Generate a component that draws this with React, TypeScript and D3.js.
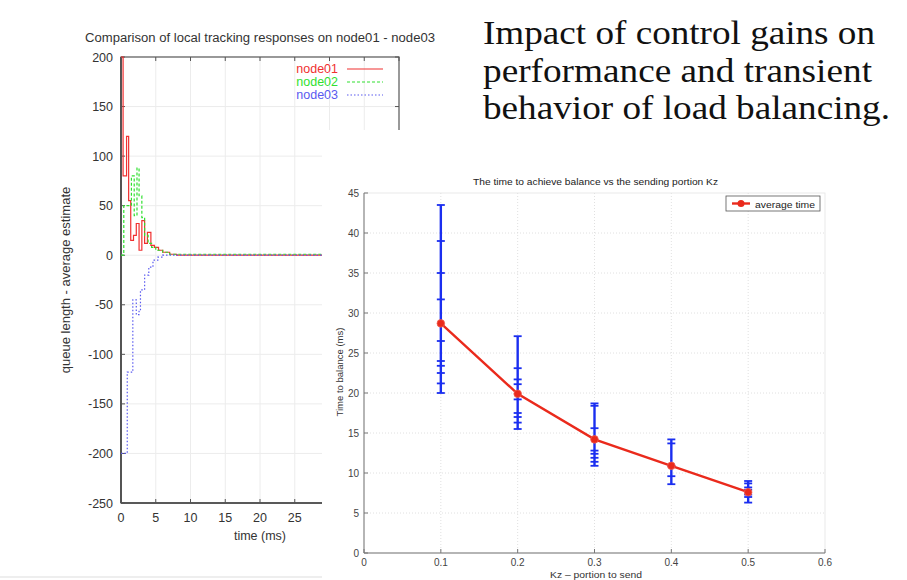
import React, { useEffect, useRef } from 'react'
import * as d3 from 'd3'

// left chart: step responses (time in ms, queue length - average estimate)
const node01Time = [0, 0.3, 0.8, 1.1, 1.4, 1.8, 2.2, 2.6, 3.0, 3.4, 3.8, 4.3, 4.8, 5.4, 6.0, 7.0, 8.0, 40]
const node01Value = [200, 80, 120, 55, 15, 20, 32, 5, 35, 12, 23, 10, 8, 5, 3, 1, 0, 0]
const node02Time = [0, 0.4, 1.5, 1.9, 2.3, 2.6, 3.0, 3.4, 3.9, 4.4, 5.0, 6.0, 7.0, 40]
const node02Value = [0, 50, 80, 40, 88, 60, 38, 20, 12, 8, 5, 3, 1, 0]
const node03Time = [0, 0.9, 1.7, 2.2, 2.6, 2.8, 3.4, 4.0, 4.6, 5.3, 6.0, 40]
const node03Value = [-200, -118, -45, -60, -55, -35, -20, -12, -5, -2, 0, 0]
const leftXTicks = [0, 5, 10, 15, 20, 25, 30, 35, 40]
const leftYTicks = [-250, -200, -150, -100, -50, 0, 50, 100, 150, 200]

// right chart: time to balance (ms) for each Kz
const kz = [0.1, 0.2, 0.3, 0.4, 0.5]
const runsKz01 = [43.5, 39, 35, 31.7, 26.5, 24, 23.4, 22.5, 21.2, 20]
const runsKz02 = [27.1, 23.1, 21.7, 21.1, 19.2, 17.5, 17, 16.3, 15.5]
const runsKz03 = [18.7, 18.4, 15.6, 12.8, 12.4, 11.9, 11.4, 10.9]
const runsKz04 = [14.2, 13.7, 10.9, 9.6, 8.6]
const runsKz05 = [9, 8.7, 8.2, 7.9, 7.3, 7.0, 6.3]
const averageTime = [28.7, 19.9, 14.2, 10.9, 7.6]
const rightXTicks = [0, 0.1, 0.2, 0.3, 0.4, 0.5, 0.6]
const rightYTicks = [0, 5, 10, 15, 20, 25, 30, 35, 40, 45]

const heading = ['Impact of control gains on', 'performance and transient', 'behavior of load balancing.']
const headingWidth = [392, 389, 407]

const SANS = 'Liberation Sans, Arial, Helvetica, sans-serif'

function App() {
  const ref = useRef(null)

  useEffect(() => {
    const svg = d3.select(ref.current)
    svg.selectAll('*').remove()

    // ---------- left chart ----------
    const xL = d3.scaleLinear().domain([0, 40]).range([121, 399])
    const yL = d3.scaleLinear().domain([-250, 200]).range([503, 57])
    const left = svg.append('g')

    left.append('text').text('Comparison of local tracking responses on node01 - node03')
      .attr('x', 85).attr('y', 42).attr('textLength', 350).attr('lengthAdjust', 'spacingAndGlyphs')
      .attr('font-family', SANS).attr('font-size', 12.5).attr('fill', '#333')

    // grid
    left.selectAll('line.gx').data(leftXTicks.slice(1, -1)).enter().append('line')
      .attr('x1', d => xL(d)).attr('x2', d => xL(d)).attr('y1', yL(200)).attr('y2', yL(-250))
      .attr('stroke', '#ececec').attr('stroke-width', 1)
    left.selectAll('line.gy').data(leftYTicks.slice(1, -1)).enter().append('line')
      .attr('x1', xL(0)).attr('x2', xL(40)).attr('y1', d => yL(d)).attr('y2', d => yL(d))
      .attr('stroke', '#ececec').attr('stroke-width', 1)

    // frame
    left.append('rect').attr('x', xL(0)).attr('y', yL(200))
      .attr('width', xL(40) - xL(0)).attr('height', yL(-250) - yL(200))
      .attr('fill', 'none').attr('stroke', '#555').attr('stroke-width', 1.2)
    left.append('line').attr('x1', xL(0)).attr('x2', xL(0)).attr('y1', yL(200)).attr('y2', yL(-250))
      .attr('stroke', '#444').attr('stroke-width', 1.6)
    left.append('line').attr('x1', xL(0)).attr('x2', xL(40)).attr('y1', yL(-250)).attr('y2', yL(-250))
      .attr('stroke', '#444').attr('stroke-width', 1.6)

    // ticks (inward, mirrored)
    leftXTicks.forEach(t => {
      left.append('line').attr('x1', xL(t)).attr('x2', xL(t)).attr('y1', yL(-250)).attr('y2', yL(-250) - 4)
        .attr('stroke', '#555')
      left.append('line').attr('x1', xL(t)).attr('x2', xL(t)).attr('y1', yL(200)).attr('y2', yL(200) + 4)
        .attr('stroke', '#555')
      left.append('text').text(t).attr('x', xL(t)).attr('y', yL(-250) + 19)
        .attr('text-anchor', 'middle').attr('font-family', SANS).attr('font-size', 12.5).attr('fill', '#333')
    })
    leftYTicks.forEach(t => {
      left.append('line').attr('x1', xL(0)).attr('x2', xL(0) + 4).attr('y1', yL(t)).attr('y2', yL(t))
        .attr('stroke', '#555')
      left.append('line').attr('x1', xL(40)).attr('x2', xL(40) - 4).attr('y1', yL(t)).attr('y2', yL(t))
        .attr('stroke', '#555')
      left.append('text').text(t).attr('x', xL(0) - 8).attr('y', yL(t) + 4.5)
        .attr('text-anchor', 'end').attr('font-family', SANS).attr('font-size', 12.5).attr('fill', '#333')
    })

    left.append('text').text('time (ms)').attr('x', 260).attr('y', 540)
      .attr('text-anchor', 'middle').attr('font-family', SANS).attr('font-size', 12.5).attr('fill', '#333')
    left.append('text').text('queue length - average estimate')
      .attr('transform', 'translate(70,280) rotate(-90)')
      .attr('text-anchor', 'middle').attr('font-family', SANS).attr('font-size', 13).attr('fill', '#333')

    const series = [
      { name: 'node01', t: node01Time, v: node01Value, color: '#f03030', dash: null },
      { name: 'node02', t: node02Time, v: node02Value, color: '#30e030', dash: '3,2' },
      { name: 'node03', t: node03Time, v: node03Value, color: '#5a5af0', dash: '1.5,2' },
    ]
    series.forEach((s, k) => {
      const line = d3.line<number>()
        .x((d, i) => xL(s.t[i]))
        .y(d => yL(d))
        .curve(d3.curveStepAfter)
      left.append('path').datum(s.v).attr('d', line)
        .attr('fill', 'none').attr('stroke', s.color).attr('stroke-width', 1.2)
        .attr('stroke-dasharray', s.dash)
      // legend
      const ly = 69 + k * 13
      left.append('text').text(s.name).attr('x', 338).attr('y', ly + 4)
        .attr('text-anchor', 'end').attr('font-family', SANS).attr('font-size', 12.5).attr('fill', s.color)
      left.append('line').attr('x1', 347).attr('x2', 383).attr('y1', ly).attr('y2', ly)
        .attr('stroke', s.color).attr('stroke-width', 1.2).attr('stroke-dasharray', s.dash)
    })

    // bottom border of the left picture
    svg.append('line').attr('x1', 0).attr('x2', 322).attr('y1', 577).attr('y2', 577)
      .attr('stroke', '#ddd').attr('stroke-width', 1)

    // ---------- right chart (pasted over) ----------
    svg.append('rect').attr('x', 322).attr('y', 130).attr('width', 585).attr('height', 450).attr('fill', '#fff')

    const xR = d3.scaleLinear().domain([0, 0.6]).range([364, 825])
    const yR = d3.scaleLinear().domain([0, 45]).range([553, 193])
    const right = svg.append('g')

    right.append('text').text('The time to achieve balance vs the sending portion Kz')
      .attr('x', 473).attr('y', 185).attr('textLength', 245).attr('lengthAdjust', 'spacingAndGlyphs')
      .attr('font-family', SANS).attr('font-size', 9.5).attr('fill', '#222')

    right.selectAll('line.gx').data(rightXTicks.slice(1, -1)).enter().append('line')
      .attr('x1', d => xR(d)).attr('x2', d => xR(d)).attr('y1', yR(45)).attr('y2', yR(0))
      .attr('stroke', '#d8d8d8').attr('stroke-width', 0.8).attr('stroke-dasharray', '1,2')
    right.selectAll('line.gy').data(rightYTicks.slice(1, -1)).enter().append('line')
      .attr('x1', xR(0)).attr('x2', xR(0.6)).attr('y1', d => yR(d)).attr('y2', d => yR(d))
      .attr('stroke', '#d8d8d8').attr('stroke-width', 0.8).attr('stroke-dasharray', '1,2')

    right.append('rect').attr('x', xR(0)).attr('y', yR(45))
      .attr('width', xR(0.6) - xR(0)).attr('height', yR(0) - yR(45))
      .attr('fill', 'none').attr('stroke', '#e4e4e4').attr('stroke-width', 0.8)
    right.append('line').attr('x1', xR(0)).attr('x2', xR(0)).attr('y1', yR(45)).attr('y2', yR(0))
      .attr('stroke', '#777').attr('stroke-width', 1)
    right.append('line').attr('x1', xR(0)).attr('x2', xR(0.6)).attr('y1', yR(0)).attr('y2', yR(0))
      .attr('stroke', '#777').attr('stroke-width', 1)

    rightXTicks.forEach(t => {
      right.append('line').attr('x1', xR(t)).attr('x2', xR(t)).attr('y1', yR(0)).attr('y2', yR(0) - 4)
        .attr('stroke', '#777')
      right.append('text').text(t).attr('x', xR(t)).attr('y', yR(0) + 13)
        .attr('text-anchor', 'middle').attr('font-family', SANS).attr('font-size', 10).attr('fill', '#444')
    })
    rightYTicks.forEach(t => {
      right.append('line').attr('x1', xR(0)).attr('x2', xR(0) + 4).attr('y1', yR(t)).attr('y2', yR(t))
        .attr('stroke', '#777')
      right.append('text').text(t).attr('x', xR(0) - 5).attr('y', yR(t) + 3.5)
        .attr('text-anchor', 'end').attr('font-family', SANS).attr('font-size', 10).attr('fill', '#444')
    })

    right.append('text').text('Kz \u2013 portion to send').attr('x', 550).attr('y', 578)
      .attr('textLength', 92).attr('lengthAdjust', 'spacingAndGlyphs')
      .attr('font-family', SANS).attr('font-size', 9.5).attr('fill', '#333')
    right.append('text').text('Time to balance (ms)')
      .attr('transform', 'translate(343,372) rotate(-90)')
      .attr('text-anchor', 'middle').attr('font-family', SANS).attr('font-size', 9.5).attr('fill', '#333')

    // blue runs
    const runs = [runsKz01, runsKz02, runsKz03, runsKz04, runsKz05]
    const blue = '#1a2ef0'
    runs.forEach((r, i) => {
      const x = xR(kz[i])
      const lo = d3.min(r.concat([averageTime[i]])) as number
      const hi = d3.max(r.concat([averageTime[i]])) as number
      right.append('line').attr('x1', x).attr('x2', x).attr('y1', yR(lo)).attr('y2', yR(hi))
        .attr('stroke', blue).attr('stroke-width', 2.4)
      r.forEach(v => {
        right.append('line').attr('x1', x - 4).attr('x2', x + 4).attr('y1', yR(v)).attr('y2', yR(v))
          .attr('stroke', blue).attr('stroke-width', 1.8)
      })
    })

    // red average
    const red = '#ea2a1c'
    const avgLine = d3.line<number>().x((d, i) => xR(kz[i])).y(d => yR(d))
    right.append('path').datum(averageTime).attr('d', avgLine)
      .attr('fill', 'none').attr('stroke', red).attr('stroke-width', 2.4)
    right.selectAll('circle.avg').data(averageTime).enter().append('circle')
      .attr('cx', (d, i) => xR(kz[i])).attr('cy', d => yR(d)).attr('r', 3.8)
      .attr('fill', red).attr('stroke', '#f06050').attr('stroke-width', 0.8)

    // legend
    right.append('rect').attr('x', 726).attr('y', 196).attr('width', 94).attr('height', 15)
      .attr('fill', '#fff').attr('stroke', '#555').attr('stroke-width', 0.8)
    right.append('line').attr('x1', 732).attr('x2', 750).attr('y1', 203.5).attr('y2', 203.5)
      .attr('stroke', red).attr('stroke-width', 2.4)
    right.append('circle').attr('cx', 741).attr('cy', 203.5).attr('r', 3.5).attr('fill', red)
    right.append('text').text('average time').attr('x', 755).attr('y', 207.5)
      .attr('textLength', 60).attr('lengthAdjust', 'spacingAndGlyphs')
      .attr('font-family', SANS).attr('font-size', 9.5).attr('fill', '#222')

    // ---------- slide heading ----------
    heading.forEach((h, i) => {
      svg.append('text').text(h).attr('x', 483).attr('y', 44 + i * 37.5)
        .attr('textLength', headingWidth[i]).attr('lengthAdjust', 'spacingAndGlyphs')
        .attr('font-family', 'Liberation Serif, Times New Roman, serif').attr('font-size', 33).attr('fill', '#111')
    })
  }, [])

  return (
    <svg ref={ref} width={907} height={580}
      style={{ position: 'absolute', left: 0, top: 0, background: '#fff' }} />
  )
}

export default App
